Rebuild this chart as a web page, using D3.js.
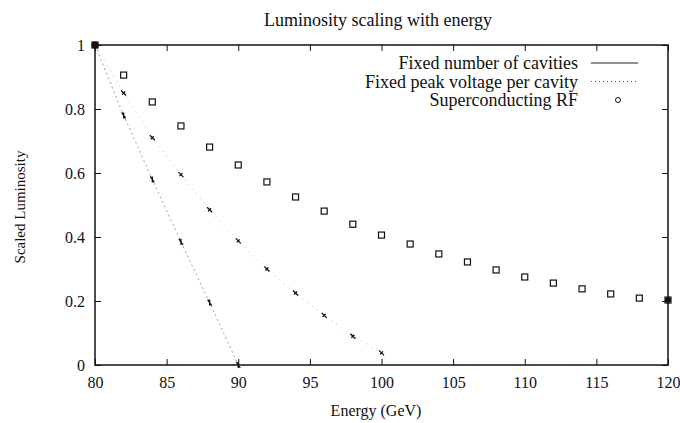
<!DOCTYPE html>
<html>
<head>
<meta charset="utf-8">
<script src="https://cdn.jsdelivr.net/npm/d3@7"></script>
<style>
  body { margin: 0; background: #fff; }
  svg text { font-family: "Liberation Serif", "DejaVu Serif", serif; fill: #111; }
</style>
</head>
<body>
<div id="chart"></div>
<script>
// energies in GeV
const energies = [80, 82, 84, 86, 88, 90, 92, 94, 96, 98, 100, 102, 104, 106, 108, 110, 112, 114, 116, 118, 120];

const fixedCavities = [1, 0.78, 0.58, 0.385, 0.195, 0.0];
const fixedVoltage = [1, 0.85, 0.71, 0.595, 0.485, 0.388, 0.30, 0.225, 0.155, 0.09, 0.038];
const superRF = [1, 0.906, 0.822, 0.747, 0.681, 0.625, 0.572, 0.525, 0.481, 0.44, 0.406,
  0.378, 0.347, 0.322, 0.297, 0.275, 0.256, 0.238, 0.222, 0.209, 0.203];

const seriesNames = ["Fixed number of cavities", "Fixed peak voltage per cavity", "Superconducting RF"];
const xTicks = [80, 85, 90, 95, 100, 105, 110, 115, 120];
const yTicks = [0, 0.2, 0.4, 0.6, 0.8, 1];

const W = 680, H = 423;
const margin = { top: 45, right: 12, bottom: 58, left: 95 };
const width = W - margin.left - margin.right;
const height = H - margin.top - margin.bottom;

const svg = d3.select("#chart")
  .append("svg")
    .attr("width", W)
    .attr("height", H)
  .append("g")
    .attr("transform", `translate(${margin.left},${margin.top})`);

const x = d3.scaleLinear().domain([80, 120]).range([0, width]);
const y = d3.scaleLinear().domain([0, 1]).range([height, 0]);

const pts = vals => vals.map((v, i) => ({ e: energies[i], v: v }));

// frame
svg.append("rect")
  .attr("width", width)
  .attr("height", height)
  .attr("fill", "none")
  .attr("stroke", "#111")
  .attr("stroke-width", 1.5);

// axes, gnuplot style ticks pointing inward
const tick = 6;
svg.append("g")
  .attr("transform", `translate(0,${height})`)
  .call(d3.axisBottom(x).tickValues(xTicks).tickSize(-tick).tickPadding(12).tickFormat(d3.format("d")))
  .call(g => g.select(".domain").remove());
svg.append("g")
  .call(d3.axisTop(x).tickValues(xTicks).tickSize(-tick).tickFormat(""))
  .call(g => g.select(".domain").remove());
svg.append("g")
  .call(d3.axisLeft(y).tickValues(yTicks).tickSize(-tick).tickPadding(10).tickFormat(d => d === 0 || d === 1 ? d : d3.format(".1f")(d)))
  .call(g => g.select(".domain").remove());
svg.append("g")
  .attr("transform", `translate(${width},0)`)
  .call(d3.axisRight(y).tickValues(yTicks).tickSize(-tick).tickFormat(""))
  .call(g => g.select(".domain").remove());

svg.selectAll(".tick line").attr("stroke", "#111").attr("stroke-width", 1);
svg.selectAll(".tick text")
  .style("font-family", "'Liberation Serif', serif")
  .style("font-size", "16px")
  .attr("fill", "#111");

const line = d3.line().x(d => x(d.e)).y(d => y(d.v));

// Fixed number of cavities
svg.append("path")
  .datum(pts(fixedCavities))
  .attr("fill", "none")
  .attr("stroke", "#888")
  .attr("stroke-width", 0.8)
  .attr("stroke-dasharray", "2,3")
  .attr("d", line);
svg.selectAll(".m1")
  .data(pts(fixedCavities))
  .enter().append("path")
  .attr("class", "m1")
  .attr("transform", d => `translate(${x(d.e)},${y(d.v)})`)
  .attr("d", "M-2,-3L2,3M0,-3L0,3")
  .attr("stroke", "#111")
  .attr("stroke-width", 1.3);

// Fixed peak voltage per cavity
svg.append("path")
  .datum(pts(fixedVoltage))
  .attr("fill", "none")
  .attr("stroke", "#aaa")
  .attr("stroke-width", 0.8)
  .attr("stroke-dasharray", "1,5")
  .attr("d", line);
svg.selectAll(".m2")
  .data(pts(fixedVoltage))
  .enter().append("path")
  .attr("class", "m2")
  .attr("transform", d => `translate(${x(d.e)},${y(d.v)})`)
  .attr("d", "M-2.5,-2.5L2.5,2.5M-1.5,1.5L1.5,-1.5")
  .attr("stroke", "#111")
  .attr("stroke-width", 1.3);

// Superconducting RF
svg.selectAll(".m3")
  .data(pts(superRF))
  .enter().append("rect")
  .attr("class", "m3")
  .attr("x", d => x(d.e) - 3)
  .attr("y", d => y(d.v) - 3)
  .attr("width", 6)
  .attr("height", 6)
  .attr("fill", "none")
  .attr("stroke", "#111")
  .attr("stroke-width", 1.2);

// endpoint dots at 80 / 120
svg.append("circle").attr("cx", x(80)).attr("cy", y(1)).attr("r", 3.5).attr("fill", "#111");
svg.append("circle").attr("cx", x(120)).attr("cy", y(superRF[superRF.length - 1])).attr("r", 3).attr("fill", "#111");

// legend
const legend = svg.append("g").attr("transform", `translate(${578 - margin.left},${63 - margin.top})`);
seriesNames.forEach((name, i) => {
  const row = legend.append("g").attr("transform", `translate(0,${i * 18.5})`);
  row.append("text")
    .attr("text-anchor", "end")
    .attr("dy", "0.35em")
    .style("font-size", "18px")
    .text(name);
  if (i === 0) {
    row.append("line").attr("x1", 13).attr("x2", 60).attr("stroke", "#222").attr("stroke-width", 1);
  } else if (i === 1) {
    row.append("line").attr("x1", 13).attr("x2", 60).attr("stroke", "#555").attr("stroke-width", 1).attr("stroke-dasharray", "1,3");
  } else {
    row.append("circle").attr("cx", 40).attr("r", 2.5).attr("fill", "none").attr("stroke", "#111").attr("stroke-width", 1);
  }
});

// titles
svg.append("text")
  .attr("x", 378 - margin.left)
  .attr("y", 20 - margin.top)
  .attr("text-anchor", "middle")
  .attr("dy", "0.35em")
  .style("font-size", "18px")
  .text("Luminosity scaling with energy");

svg.append("text")
  .attr("x", 376 - margin.left)
  .attr("y", 410 - margin.top)
  .attr("text-anchor", "middle")
  .attr("dy", "0.35em")
  .style("font-size", "16px")
  .text("Energy (GeV)");

svg.append("text")
  .attr("transform", `translate(${20 - margin.left},${height / 2 + 2}) rotate(-90)`)
  .attr("text-anchor", "middle")
  .attr("dy", "0.35em")
  .style("font-size", "15px")
  .text("Scaled Luminosity");
</script>
</body>
</html>
